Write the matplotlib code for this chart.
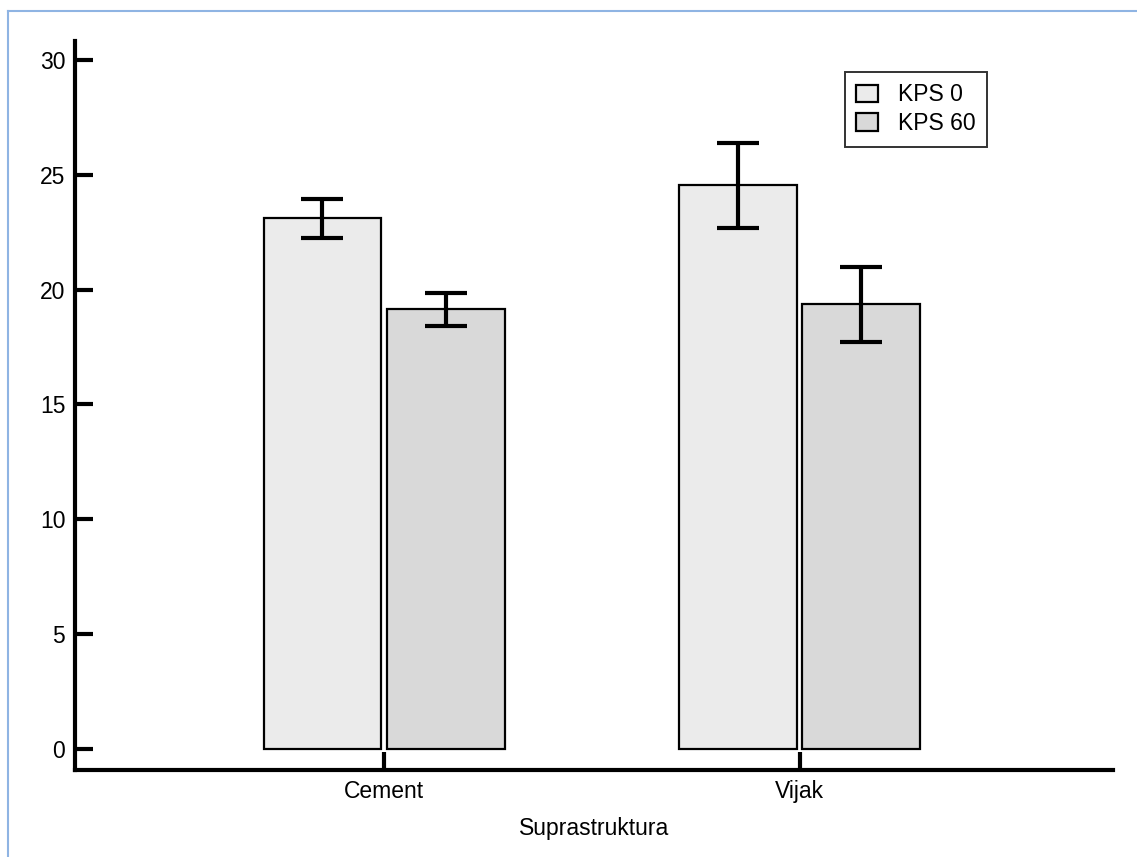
import numpy as np
import matplotlib
matplotlib.use('Agg')
import matplotlib.pyplot as plt
from matplotlib.lines import Line2D

plt.rcParams['font.family'] = ['Liberation Sans', 'DejaVu Sans']

# datos
grupos = ['Cement', 'Vijak']
series = ['KPS 0', 'KPS 60']
media_kps0 = [23.1, 24.55]
media_kps60 = [19.15, 19.35]
err_kps0 = [0.85, 1.85]
err_kps60 = [0.72, 1.63]
yticks = [0, 5, 10, 15, 20, 25, 30]

colores = ['#ebebeb', '#d9d9d9']
ancho = 0.284
sep = 0.149

fig = plt.figure(figsize=(11.37, 8.57), dpi=100)
ax = fig.add_axes([75/1137, 87/857, (1113-75)/1137, (770-41)/857])

x = np.arange(len(grupos))
for i, (med, err) in enumerate([(media_kps0, err_kps0), (media_kps60, err_kps60)]):
    pos = x + (-sep if i == 0 else sep)
    ax.bar(pos, med, width=ancho, color=colores[i], edgecolor='black',
           linewidth=1.6, label=series[i], zorder=2)
    ax.errorbar(pos, med, yerr=err, fmt='none', ecolor='black',
                elinewidth=3, capsize=15, capthick=3, zorder=3)

ax.set_xlim(-0.745, 1.755)
ax.set_ylim(-0.914, 30.82)
ax.set_xticks(x)
ax.set_xticklabels(grupos, fontsize=16.5)
ax.set_yticks(yticks)
ax.set_yticklabels([str(v) for v in yticks], fontsize=16.5)
ax.tick_params(axis='both', direction='in', length=13, width=3, pad=7)
ax.set_xlabel('Suprastruktura', fontsize=16.5, labelpad=10)

for lado in ['top', 'right']:
    ax.spines[lado].set_visible(False)
for lado in ['left', 'bottom']:
    ax.spines[lado].set_linewidth(3)

leg = ax.legend(loc='upper left', fontsize=16.5, frameon=True, fancybox=False,
                edgecolor='black', handlelength=0.95, handleheight=0.8, borderpad=0.5,
                labelspacing=0.25, handletextpad=0.85, borderaxespad=0)
leg.get_frame().set_linewidth(1.4)
leg.set_bbox_to_anchor(((845-75)/(1113-75), 1 - (72-41)/729), transform=ax.transAxes)

# borde azul de la figura
fig.add_artist(Line2D([8/1137, 8/1137], [0, 1 - 11/857], color='#8fb4e3', linewidth=1.5))
fig.add_artist(Line2D([8/1137, 1], [1 - 11/857, 1 - 11/857], color='#8fb4e3', linewidth=1.5))

plt.savefig('out.png', dpi=100)
